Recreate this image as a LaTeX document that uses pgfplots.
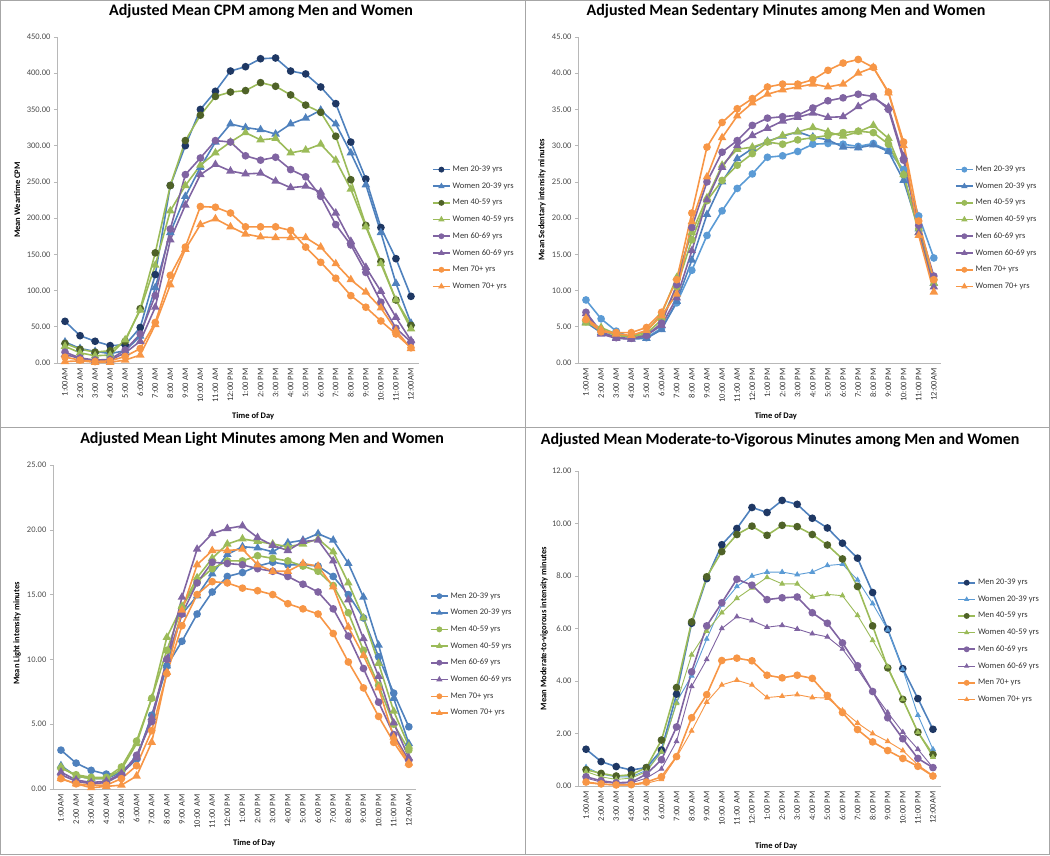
\documentclass[border=0pt]{standalone}
\usepackage{pgfplots}
\pgfplotsset{compat=1.18}
\usepackage{pgfplotstable}
\usepackage{fontspec}
\setmainfont{Carlito}

\definecolor{cblue}{HTML}{4F81BD}
\definecolor{clblue}{HTML}{5B9BD5}
\definecolor{cnavy}{HTML}{1F3864}
\definecolor{cgreen}{HTML}{9BBB59}
\definecolor{colive}{HTML}{4F6228}
\definecolor{cpurple}{HTML}{8064A2}
\definecolor{cdpurple}{HTML}{403152}
\definecolor{corange}{HTML}{F79646}

\pgfplotstableread{
h  m1    w1    m2    w2    m3    w3    m4    w4
1  57.5  29    27    23    15    12    8     2
2  37.7  20    19    14    7     6     4     3
3  30    16    15    10    4     3     2     1
4  24    13    17    11    5     4     3     1
5  25    17    30    32    18    14    9     4
6  49    37    75    73    40    30    20    11
7  122   104   152   135   93    77    56    53
8  245   180   245   210   185   170   121   108
9  300   230   307   245   260   218   160   157
10 350   270   342   273   283   260   216   191
11 375   305   368   290   307   274   215   199
12 403   330   374   305   305   265   207   188
13 409   325   376   318   286   261   188   178
14 420   322   387   308   280   262   188   174
15 421   316   382   310   284   251   188   173
16 403   330   370   290   267   242   183   173
17 399   338   356   294   257   244   160   173
18 381   349   346   302   230   236   139   160
19 358   330   313   280   191   207   117   137
20 305   290   253   240   163   168   93    115
21 254   246   190   188   125   132   77    98
22 187   180   140   137   84    99    58    76
23 144   110   87    87    48    63    40    45
24 92    55    52    47    29    31    21    20
}\cpm

\pgfplotstableread{
h  m1   w1   m2   w2   m3   w3   m4   w4
1  8.7  5.6  5.7  5.5  7.0  6.8  6.0  6.2
2  6.1  4.2  4.5  4.9  4.3  4.0  4.3  4.6
3  4.4  3.5  3.8  4.0  3.5  3.4  4.2  4.0
4  3.5  3.3  3.6  3.7  3.4  3.3  4.2  3.8
5  3.5  3.4  4.0  4.3  3.8  3.8  4.9  4.5
6  4.8  4.6  6.0  6.8  5.5  5.2  7.0  6.5
7  8.3  8.5  10.5 11.8 10.8 9.0  11.5 9.5
8  12.8 14.2 17.0 18.0 18.7 15.5 20.7 19.5
9  17.6 20.5 22.4 22.8 25.0 22.5 29.8 25.7
10 21.0 25.0 25.2 27.3 29.1 27.0 33.2 31.1
11 24.1 28.2 27.3 29.5 30.7 30.0 35.1 34.1
12 26.1 29.6 28.9 29.8 32.8 31.4 36.5 35.9
13 28.4 30.6 30.5 30.5 33.8 32.4 38.1 37.1
14 28.6 31.3 30.2 31.4 34.0 33.4 38.5 37.7
15 29.2 31.9 30.8 31.9 34.2 33.9 38.5 38.1
16 30.2 31.2 31.1 32.5 35.2 34.5 39.1 38.5
17 30.3 30.8 31.4 31.9 36.2 33.9 40.4 38.1
18 30.2 29.8 31.8 31.3 36.6 34.0 41.4 38.5
19 29.9 29.7 32.0 31.9 37.1 35.4 41.9 40.0
20 30.3 30.1 31.8 32.8 36.8 36.6 40.8 40.8
21 29.3 29.2 30.2 31.0 35.0 35.3 37.4 37.3
22 26.7 25.2 26.0 26.0 28.0 28.5 30.5 30.0
23 20.3 18.5 18.5 18.0 19.0 18.0 19.6 17.6
24 14.5 11.0 11.5 11.0 12.0 10.5 11.5 9.8
}\sed

\pgfplotstableread{
h  m1   w1   m2   w2   m3   w3   m4   w4
1  3.0  1.8  1.6  1.7  1.1  1.3  0.8  0.8
2  2.0  1.0  1.1  1.0  0.6  0.7  0.4  0.4
3  1.44 0.8  0.9  0.8  0.4  0.5  0.3  0.1
4  1.15 0.8  0.9  0.8  0.5  0.6  0.3  0.2
5  1.2  1.3  1.7  1.5  1.1  1.2  0.8  0.3
6  2.3  2.5  3.7  3.5  2.6  2.4  1.8  1.0
7  5.7  5.5  7.0  7.0  5.2  5.5  4.5  3.6
8  9.5  9.5  10.7 11.7 10.0 10.0 8.9  9.0
9  11.4 13.5 14.0 14.1 13.5 14.8 12.6 13.8
10 13.5 14.9 16.0 16.3 15.9 18.5 15.0 17.3
11 15.2 16.6 17.0 17.8 17.5 19.7 16.0 18.4
12 16.4 18.1 17.6 18.9 17.4 20.1 15.9 18.4
13 16.7 18.7 17.6 19.3 17.3 20.3 15.5 18.5
14 17.2 18.6 18.0 19.1 17.0 19.4 15.3 17.3
15 17.5 18.3 17.8 18.9 16.8 18.8 15.0 16.8
16 17.3 19.0 17.6 18.7 16.4 18.4 14.3 16.8
17 17.3 19.2 17.2 18.9 15.8 19.1 13.9 17.4
18 17.2 19.7 16.8 19.3 15.2 19.2 13.5 17.2
19 16.4 19.2 15.7 18.3 13.9 17.6 12.0 15.6
20 15.0 17.4 13.6 15.9 11.8 14.6 9.8  12.5
21 13.2 14.8 10.7 13.2 9.3  11.6 7.8  10.3
22 10.2 11.1 8.0  9.7  6.7  8.7  5.6  7.8
23 7.4  7.0  5.0  6.0  4.2  5.1  3.6  4.0
24 4.8  3.5  3.0  3.3  2.2  2.4  1.9  2.0
}\light

\pgfplotstableread{
h  m1    w1    m2    w2    m3    w3    m4    w4
1  1.40  0.72  0.62  0.55  0.35  0.30  0.15  0.12
2  0.93  0.45  0.48  0.35  0.20  0.15  0.08  0.06
3  0.74  0.35  0.38  0.25  0.12  0.10  0.04  0.03
4  0.61  0.35  0.43  0.30  0.15  0.12  0.05  0.03
5  0.70  0.60  0.70  0.55  0.45  0.30  0.15  0.10
6  1.37  1.30  1.75  1.30  1.00  0.65  0.35  0.25
7  3.50  3.20  3.75  3.15  2.25  1.70  1.12  1.10
8  6.20  4.20  6.25  5.00  4.35  3.80  2.60  2.10
9  7.90  5.60  7.97  5.90  6.10  4.82  3.48  3.20
10 9.19  6.90  8.93  6.60  6.98  6.00  4.78  3.85
11 9.81  7.60  9.58  7.15  7.88  6.45  4.87  4.03
12 10.61 8.00  9.90  7.55  7.65  6.30  4.77  3.85
13 10.42 8.15  9.55  7.95  7.10  6.05  4.22  3.37
14 10.88 8.15  9.93  7.70  7.17  6.12  4.12  3.42
15 10.73 8.05  9.88  7.70  7.20  5.98  4.22  3.48
16 10.20 8.15  9.58  7.20  6.60  5.80  4.10  3.37
17 9.83  8.40  9.18  7.30  6.20  5.68  3.45  3.35
18 9.25  8.45  8.65  7.25  5.45  5.22  2.80  2.88
19 8.68  7.85  7.60  6.50  4.58  4.45  2.15  2.40
20 7.37  6.95  6.10  5.55  3.60  3.60  1.68  2.00
21 5.97  5.95  4.50  4.55  2.60  2.80  1.35  1.70
22 4.47  4.45  3.30  3.30  1.80  2.05  1.05  1.35
23 3.33  2.70  2.05  2.05  1.05  1.40  0.75  0.80
24 2.16  1.40  1.20  1.10  0.70  0.70  0.38  0.40
}\mvpa

\pgfplotsset{
  common/.style={
    scale only axis, clip=false,
    xmin=0.5, xmax=24.5, ymin=0,
    axis x line*=bottom, axis y line*=left,
    axis line style={-, draw=black!28, line width=0.7pt},
    xtick={1,...,24},
    xticklabels={1:00AM,2:00 AM,3:00 AM,4:00 AM,5:00 AM,6:00AM,7:00 AM,8:00 AM,9:00 AM,10:00 AM,11:00 AM,12:00 PM,1:00 PM,2:00 PM,3:00 PM,4:00 PM,5:00 PM,6:00 PM,7:00 PM,8:00 PM,9:00 PM,10:00 PM,11:00 PM,12:00AM},
    xtick style={draw=none},
    ytick style={draw=black!28, line width=0.6pt},
    tick align=outside, major tick length=3.5pt,
    xticklabel style={rotate=90, anchor=east, font=\fontsize{8.5}{9}\selectfont, text=black!80, inner sep=2pt},
    yticklabel style={font=\fontsize{8.5}{9}\selectfont, text=black!70,
      /pgf/number format/fixed, /pgf/number format/fixed zerofill,
      /pgf/number format/precision=2, /pgf/number format/assume math mode=true,
      /pgf/number format/1000 sep={}},
    scaled y ticks=false,
    title style={font=\bfseries\fontsize{16}{19}\selectfont, anchor=center},
    xlabel style={font=\bfseries\fontsize{8.5}{10}\selectfont, anchor=center},
    ylabel style={font=\bfseries\fontsize{8.5}{10}\selectfont, anchor=center},
    legend style={draw=none, fill=none, anchor=west,
      font=\fontsize{8.5}{10}\selectfont, text=black!80,
      row sep=5.6pt, inner sep=0pt},
    legend cell align=left,
    legend image post style={mark size=2.1pt},
  },
  ser/.style n args={4}{color=#1, line width=#4, mark=#2,
    mark size=3pt, mark options={solid, fill=#3, draw=#3}},
  tri/.style n args={3}{color=#1, line width=#3, mark=triangle*,
    mark size=3.4pt, mark options={solid, fill=#2, draw=#2}},
}

\begin{document}
\begin{tikzpicture}[x=1pt,y=1pt]
\useasboundingbox (0,0) rectangle (1050,855);
\draw[black!35, line width=1pt] (0.5,0.5) rectangle (1049.5,854.5);
\draw[black!35, line width=1pt] (525,0) -- (525,855);
\draw[black!35, line width=1pt] (0,427) -- (1050,427);

% Panel 1: CPM
\begin{axis}[common, at={(57.5pt,492pt)}, anchor=south west,
  width=361pt, height=326pt, ymax=450, ytick={0,50,...,450},
  title={Adjusted Mean CPM among Men and Women},
  title style={at={(axis description cs:0.564,1.061)}},
  xlabel={Time of Day}, xlabel style={at={(axis description cs:0.542,-0.163)}},
  ylabel={Mean Weartime CPM}, ylabel style={at={(axis description cs:-0.112,0.5)}},
  legend style={at={(axis description cs:1.037,0.414)}}]
\addplot[ser={cblue}{*}{cnavy}{1.6pt}] table[x=h,y=m1]{\cpm};
\addplot[tri={cblue}{cblue}{1.6pt}] table[x=h,y=w1]{\cpm};
\addplot[ser={cgreen}{*}{colive}{1.6pt}] table[x=h,y=m2]{\cpm};
\addplot[tri={cgreen}{cgreen}{1.6pt}] table[x=h,y=w2]{\cpm};
\addplot[ser={cpurple}{*}{cpurple}{1.6pt}] table[x=h,y=m3]{\cpm};
\addplot[tri={cpurple}{cpurple}{1.6pt}] table[x=h,y=w3]{\cpm};
\addplot[ser={corange}{*}{corange}{1.6pt}] table[x=h,y=m4]{\cpm};
\addplot[tri={corange}{corange}{1.6pt}] table[x=h,y=w4]{\cpm};
\legend{Men 20-39 yrs,Women 20-39 yrs,Men 40-59 yrs,Women 40-59 yrs,Men 60-69 yrs,Women 60-69 yrs,Men 70+ yrs,Women 70+ yrs}
\end{axis}

% Panel 2: Sedentary
\begin{axis}[common, at={(578.4pt,492pt)}, anchor=south west,
  width=363pt, height=326pt, ymax=45, ytick={0,5,...,45},
  title={Adjusted Mean Sedentary Minutes among Men and Women},
  title style={at={(axis description cs:0.572,1.061)}},
  xlabel={Time of Day}, xlabel style={at={(axis description cs:0.544,-0.163)}},
  ylabel={Mean Sedentary intensity minutes}, ylabel style={at={(axis description cs:-0.100,0.5)}},
  legend style={at={(axis description cs:1.037,0.414)}}]
\addplot[ser={clblue}{*}{clblue}{1.6pt}] table[x=h,y=m1]{\sed};
\addplot[tri={cblue}{cblue}{1.6pt}] table[x=h,y=w1]{\sed};
\addplot[ser={cgreen}{*}{cgreen}{1.6pt}] table[x=h,y=m2]{\sed};
\addplot[tri={cgreen}{cgreen}{1.6pt}] table[x=h,y=w2]{\sed};
\addplot[ser={cpurple}{*}{cpurple}{1.6pt}] table[x=h,y=m3]{\sed};
\addplot[tri={cpurple}{cpurple}{1.6pt}] table[x=h,y=w3]{\sed};
\addplot[ser={corange}{*}{corange}{1.6pt}] table[x=h,y=m4]{\sed};
\addplot[tri={corange}{corange}{1.6pt}] table[x=h,y=w4]{\sed};
\legend{Men 20-39 yrs,Women 20-39 yrs,Men 40-59 yrs,Women 40-59 yrs,Men 60-69 yrs,Women 60-69 yrs,Men 70+ yrs,Women 70+ yrs}
\end{axis}

% Panel 3: Light
\begin{axis}[common, at={(53.4pt,66pt)}, anchor=south west,
  width=363pt, height=324pt, ymax=25, ytick={0,5,...,25},
  title={Adjusted Mean Light Minutes among Men and Women},
  title style={at={(axis description cs:0.575,1.062)}},
  xlabel={Time of Day}, xlabel style={at={(axis description cs:0.553,-0.167)}},
  ylabel={Mean Light intensity minutes}, ylabel style={at={(axis description cs:-0.100,0.48)}},
  legend style={at={(axis description cs:1.037,0.415)}}]
\addplot[ser={cblue}{*}{cblue}{1.6pt}] table[x=h,y=m1]{\light};
\addplot[tri={cblue}{cblue}{1.6pt}] table[x=h,y=w1]{\light};
\addplot[ser={cgreen}{*}{cgreen}{1.6pt}] table[x=h,y=m2]{\light};
\addplot[tri={cgreen}{cgreen}{1.6pt}] table[x=h,y=w2]{\light};
\addplot[ser={cpurple}{*}{cpurple}{1.6pt}] table[x=h,y=m3]{\light};
\addplot[tri={cpurple}{cpurple}{1.6pt}] table[x=h,y=w3]{\light};
\addplot[ser={corange}{*}{corange}{1.6pt}] table[x=h,y=m4]{\light};
\addplot[tri={corange}{corange}{1.6pt}] table[x=h,y=w4]{\light};
\legend{Men 20-39 yrs,Women 20-39 yrs,Men 40-59 yrs,Women 40-59 yrs,Men 60-69 yrs,Women 60-69 yrs,Men 70+ yrs,Women 70+ yrs}
\end{axis}

% Panel 4: MVPA
\begin{axis}[common, at={(578.5pt,69pt)}, anchor=south west,
  width=362pt, height=315pt, ymax=12, ytick={0,2,...,12},
  title={Adjusted Mean Moderate-to-Vigorous Minutes among Men and Women},
  title style={at={(axis description cs:0.557,1.079)}},
  xlabel={Time of Day}, xlabel style={at={(axis description cs:0.546,-0.19)}},
  ylabel={Mean Moderate-to-vigorous intensity minutes}, ylabel style={at={(axis description cs:-0.095,0.5)}},
  legend style={at={(axis description cs:1.046,0.46)}}]
\addplot[ser={cblue}{*}{cnavy}{1.6pt}] table[x=h,y=m1]{\mvpa};
\addplot[tri={clblue}{clblue}{0.9pt}, mark size=2.6pt] table[x=h,y=w1]{\mvpa};
\addplot[ser={cgreen}{*}{colive}{1.6pt}] table[x=h,y=m2]{\mvpa};
\addplot[tri={cgreen}{cgreen}{0.9pt}, mark size=2.6pt] table[x=h,y=w2]{\mvpa};
\addplot[ser={cpurple}{*}{cpurple}{1.6pt}] table[x=h,y=m3]{\mvpa};
\addplot[tri={cpurple}{cpurple}{0.9pt}, mark size=2.6pt] table[x=h,y=w3]{\mvpa};
\addplot[ser={corange}{*}{corange}{1.6pt}] table[x=h,y=m4]{\mvpa};
\addplot[tri={corange}{corange}{0.9pt}, mark size=2.6pt] table[x=h,y=w4]{\mvpa};
\legend{Men 20-39 yrs,Women 20-39 yrs,Men 40-59 yrs,Women 40-59 yrs,Men 60-69 yrs,Women 60-69 yrs,Men 70+ yrs,Women 70+ yrs}
\end{axis}
\end{tikzpicture}
\end{document}
